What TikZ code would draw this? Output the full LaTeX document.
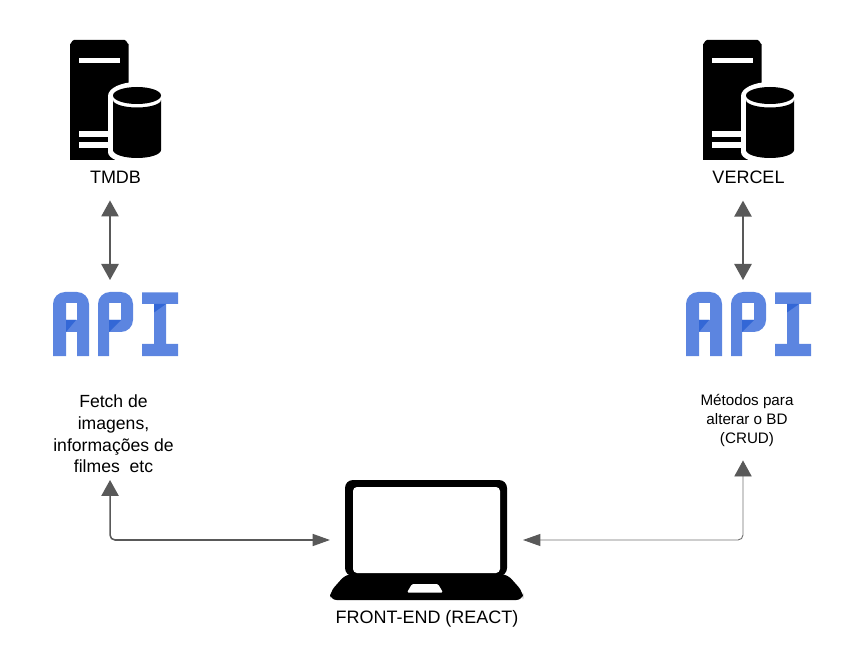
\documentclass[tikz,border=0pt]{standalone}
\usepackage{fontspec}
\setmainfont{Liberation Sans}
\usetikzlibrary{arrows.meta,calc}
\definecolor{apiblue}{HTML}{5C85E0}
\definecolor{apidark}{HTML}{3367D6}
\definecolor{linkgrey}{HTML}{595959}
\definecolor{thingrey}{HTML}{707070}
\tikzset{
  x=0.75pt,y=-0.75pt,
  link/.style={draw=linkgrey,line width=1.15pt,rounded corners=3.75pt},
  thinlink/.style={draw=thingrey,line width=0.7pt,rounded corners=3.75pt},
  vtip/.tip={Triangle[length=12pt,width=13pt,color=linkgrey]},
  htip/.tip={Triangle[length=13pt,width=9pt,color=linkgrey]},
  labeltext/.style={font=\fontsize{13.5pt}{16pt}\selectfont,align=center,inner sep=0pt},
  desc/.style={font=\fontsize{13.2pt}{16.3pt}\selectfont,align=center,inner sep=0pt},
  descsmall/.style={font=\fontsize{11.4pt}{14.4pt}\selectfont,align=center,inner sep=0pt},
  iconbox/.style={inner sep=0pt,outer sep=0pt,minimum width=#1},
  server/.pic={
    \fill[black] (70,160) -- (70,44) to[out=-90,in=180] (74,40) -- (124.5,40) to[out=0,in=-90] (128.5,44) -- (128.5,160) -- cycle;
    \fill[white] (79,58) rectangle (120,63.5);
    \fill[white] (79,131) rectangle (115,137);
    \fill[white] (79,142) rectangle (115,148);
    \fill[white] (108,96) arc[start angle=180,end angle=360,x radius=29,y radius=14]
      -- (166,152) arc[start angle=0,end angle=180,x radius=29,y radius=12] -- cycle;
    \fill[black] (137,95.5) ellipse[x radius=24,y radius=8.5];
    \fill[black] (113,100) arc[start angle=180,end angle=0,x radius=24,y radius=7.5]
      -- (161,150) arc[start angle=0,end angle=180,x radius=24,y radius=8] -- cycle;
  },
  apiglyphs/.pic={
    \fill[apiblue,even odd rule]
      (53,356) -- (53,304) arc[start angle=180,end angle=270,radius=12] -- (77,292)
      arc[start angle=270,end angle=360,radius=12] -- (89,356) -- (77,356) -- (77,332) -- (66,332) -- (66,356) -- cycle
      (66,303) rectangle (77,320);
    \fill[apidark] (66,320) -- (76,320) -- (66,332) -- cycle;
    \fill[apiblue,even odd rule]
      (98,356) -- (98,304) arc[start angle=180,end angle=270,radius=12] -- (121,292)
      arc[start angle=270,end angle=360,radius=12] -- (133,320) arc[start angle=0,end angle=90,radius=12]
      -- (109,332) -- (109,356) -- cycle
      (109,303) rectangle (121,320);
    \fill[apidark] (109,320) -- (121,320) -- (109,332) -- cycle;
    \fill[apiblue] (142,292.5) -- (178,292.5) -- (178,304) -- (166,304) -- (166,344) -- (178,344) -- (178,356) -- (142,356) -- (142,344) -- (154,344) -- (154,304) -- (142,304) -- cycle;
    \fill[apidark] (154,304) -- (166,304) -- (154,312.5) -- cycle;
  }
}
\begin{document}
\begin{tikzpicture}
\useasboundingbox (0,0) rectangle (864,670);
% icons
\pic at (0,0) {server};
\pic at (633,0) {server};
\pic at (0,0) {apiglyphs};
\pic at (633,0) {apiglyphs};
% laptop
\fill[black,rounded corners=6pt] (345,576) -- (345,480) -- (507,480) -- (507,576) -- cycle;
\fill[white,rounded corners=3pt] (353,573) -- (353,487) -- (500,487) -- (500,573) -- cycle;
\fill[black,rounded corners=5pt] (346,574) -- (507,574) -- (523,592) -- (523,600) -- (330,600) -- (330,592) -- cycle;
\fill[white,rounded corners=1pt] (412,584) -- (438,584) -- (443,592.5) -- (407,592.5) -- cycle;
% named nodes
\node[iconbox=126*0.75pt,minimum height=48pt] (apiL) at (115.5,324) {};
\node[iconbox=126*0.75pt,minimum height=48pt] (apiR) at (748.5,324) {};
\node[iconbox=193*0.75pt,minimum height=90pt] (front) at (426.5,540) {};
\node[labeltext] (tmdb) at (115.5,177) {TMDB};
\node[labeltext] (vercel) at (748.5,177) {VERCEL};
\node[labeltext] (frontlabel) at (427,618.5) {FRONT-END (REACT)};
\node[desc] (descL) at (113.5,434) {Fetch de\\imagens,\\informações de\\filmes\ \ etc};
\node[descsmall] (descR) at (747,420.5) {Métodos para\\alterar o BD\\(CRUD)};
% connectors
\draw[link,{vtip}-{vtip}] ([shift={(-5.5,17)}]tmdb.south) -- ([shift={(-5.5,-12)}]apiL.north);
\draw[link,{vtip}-{vtip}] ([shift={(-5.5,17)}]vercel.south) -- ([shift={(-5.5,-12)}]apiR.north);
\draw[link,{vtip}-{htip}] ([xshift=-2.6pt,yshift=-5pt]descL.south) |- (front.west);
\draw[thinlink,{vtip}-{htip}] ([xshift=-3pt,yshift=-10pt]descR.south) |- (front.east);
\end{tikzpicture}
\end{document}
